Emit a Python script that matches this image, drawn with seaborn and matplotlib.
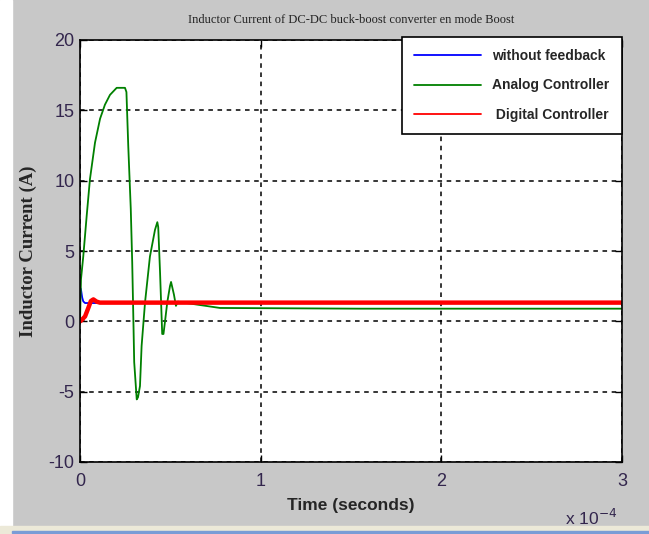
import numpy as np
import pandas as pd
import matplotlib
matplotlib.use('Agg')
import matplotlib.pyplot as plt
import seaborn as sns
from matplotlib.patches import Rectangle
from matplotlib.ticker import FuncFormatter

# Values (time in units of 1e-4 s, current in A)
t_blue = [0.0, 0.005, 0.012, 0.018, 0.028, 3.0]
i_blue = [2.4, 2.3, 1.7, 1.42, 1.3, 1.3]

t_green = [0.0, 0.0055, 0.018, 0.037, 0.055, 0.083, 0.111, 0.138, 0.166, 0.203,
           0.249, 0.257, 0.267, 0.281, 0.289, 0.295, 0.300, 0.314, 0.321, 0.332,
           0.341, 0.360, 0.387, 0.415, 0.428, 0.433, 0.443, 0.455, 0.462, 0.470,
           0.483, 0.498, 0.504, 0.520, 0.531, 0.542, 0.590, 0.775, 1.55, 3.0]
i_green = [0.0, 3.0, 4.6, 7.5, 10.1, 12.7, 14.4, 15.4, 16.1, 16.6,
           16.6, 16.3, 12.5, 8.0, 4.2, 0.4, -2.9, -5.55, -5.4, -4.6,
           -1.75, 1.35, 4.6, 6.5, 7.05, 6.7, 3.5, -0.9, -0.9, -0.07,
           1.35, 2.5, 2.8, 1.9, 1.1, 1.4, 1.3, 0.95, 0.9, 0.9]

t_red = [0.0, 0.006, 0.028, 0.046, 0.06, 0.074, 0.092, 0.11, 3.0]
i_red = [0.0, 0.05, 0.35, 0.95, 1.44, 1.56, 1.4, 1.33, 1.33]

labels = ['without feedback', 'Analog Controller', ' Digital Controller']
xticks = [0, 1, 2, 3]
yticks = [-10, -5, 0, 5, 10, 15, 20]

sns.set_style('white')
plt.rcParams['font.family'] = ['Liberation Sans', 'DejaVu Sans']
plt.rcParams['axes.unicode_minus'] = False

fig = plt.figure(figsize=(6.49, 5.34), dpi=100, facecolor='#c8c8c8')
ax = fig.add_axes([80 / 649, 1 - 462 / 534, 542 / 649, 422 / 534])
ax.set_facecolor('white')

# white strip on the left and window border at the bottom
fig.add_artist(Rectangle((0, 0), 12 / 649, 1, transform=fig.transFigure,
                         color='white', zorder=-1))
fig.add_artist(Rectangle((0, 0), 1, 8 / 534, transform=fig.transFigure,
                         color='#ece9d8', zorder=-1))
fig.add_artist(Rectangle((12 / 649, 1.5 / 534), 1, 1.2 / 534, transform=fig.transFigure,
                         color='#7a9cd6', zorder=-1))

df_b = pd.DataFrame({'t': np.array(t_blue) * 1e-4, 'i': i_blue})
df_g = pd.DataFrame({'t': np.array(t_green) * 1e-4, 'i': i_green})
df_r = pd.DataFrame({'t': np.array(t_red) * 1e-4, 'i': i_red})

sns.lineplot(data=df_b, x='t', y='i', ax=ax, color='#0000ff', lw=1.3,
             sort=False, label=labels[0])
sns.lineplot(data=df_g, x='t', y='i', ax=ax, color='#008000', lw=1.3,
             sort=False, label=labels[1])
sns.lineplot(data=df_r, x='t', y='i', ax=ax, color='#ff0000', lw=3.2,
             sort=False, label=labels[2])

ax.set_xlim(0, 3e-4)
ax.set_ylim(-10, 20)
ax.set_xticks(np.array(xticks) * 1e-4)
ax.set_yticks(yticks)
ax.xaxis.set_major_formatter(FuncFormatter(lambda v, p: f'{v * 1e4:.0f}'))
ax.grid(True, color='black', linestyle=(0, (3, 3)), linewidth=1.1)
ax.tick_params(direction='in', length=5, width=1, colors='black',
               labelcolor='#33264d', labelsize=13, top=True, right=True,
               bottom=True, left=True)
ax.tick_params(axis='x', pad=8)
ax.tick_params(axis='y', pad=4)
for s in ax.spines.values():
    s.set_color('black')
    s.set_linewidth(1.2)

ax.set_xlabel('Time (seconds)', fontsize=12.5, fontweight='bold', labelpad=6)
ax.set_ylabel('Inductor Current (A)', fontsize=13.5, fontweight='bold',
              family=['Liberation Serif', 'DejaVu Serif'], labelpad=8)
ax.set_title('Inductor Current of DC-DC buck-boost converter en mode Boost',
             fontsize=9, family=['Liberation Serif', 'DejaVu Serif'],
             color='#222222', pad=12)
fig.text(591 / 649, 1 - 518 / 534, r'x 10$^{-4}$', fontsize=12.5,
         color='#33264d', va='center', ha='center')

leg = ax.legend(loc='upper right', bbox_to_anchor=(1.0, 1.008),
                prop={'weight': 'bold', 'size': 10},
                frameon=True, fancybox=False, edgecolor='black', framealpha=1,
                handlelength=4.8, handletextpad=0.8, labelspacing=1.1,
                borderpad=0.9, borderaxespad=0)
leg.get_frame().set_linewidth(1.2)
for h in leg.get_lines():
    h.set_linewidth(1.3)

fig.savefig('out.png', dpi=100, facecolor=fig.get_facecolor())
